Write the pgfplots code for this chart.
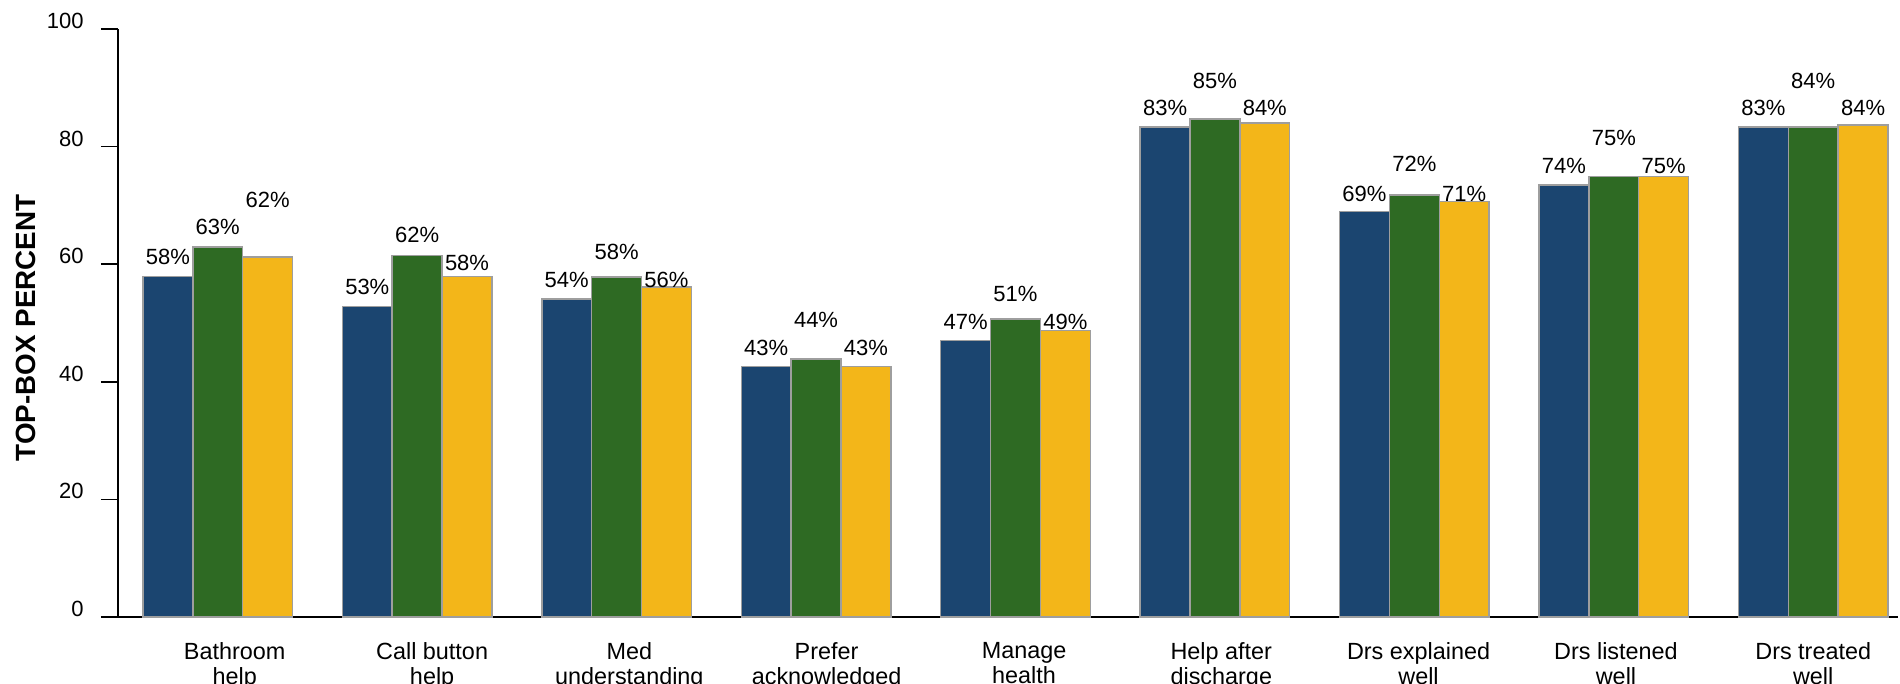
\documentclass[border=0pt]{standalone}
\usepackage{pgfplots}
\pgfplotsset{compat=1.18}
\usepackage{pgfplotstable}
\usepackage{fontspec}
\setmainfont{Liberation Sans}

\definecolor{cblue}{HTML}{1B4570}
\definecolor{cgreen}{HTML}{2E6A23}
\definecolor{cgold}{HTML}{F3B619}

% x = category, y = bar height, lab = printed percent, ly = height of label centre
\pgfplotstableread{
x y lab ly
0 57.9 58 61.3
1 52.8 53 56.1
2 54.1 54 57.3
3 42.6 43 45.7
4 47.0 47 50.2
5 83.3 83 86.6
6 69.0 69 71.9
7 73.5 74 76.7
8 83.3 83 86.5
}\blueser
\pgfplotstableread{
x y lab ly
0 62.9 63 66.3
1 61.5 62 65.0
2 57.8 58 62.1
3 43.9 44 50.5
4 50.7 51 55.0
5 84.7 85 91.2
6 71.8 72 77.0
7 74.9 75 81.4
8 83.3 84 91.2
}\greenser
\pgfplotstableread{
x y lab ly
0 61.2 62 70.9
1 57.9 58 60.2
2 56.1 56 57.3
3 42.6 43 45.7
4 48.7 49 50.2
5 84.0 84 86.6
6 70.7 71 71.9
7 74.9 75 76.7
8 83.7 84 86.5
}\goldser

\begin{document}
\begin{tikzpicture}
\begin{axis}[
  name=ax,
  scale only axis, width=890pt, height=294pt,
  xmin=-0.5, xmax=8.425, ymin=0, ymax=100,
  ybar=0pt, bar width=0.25,
  axis x line*=bottom, axis y line*=left,
  axis line style={black, line width=1pt},
  ytick={0,20,...,100},
  tick align=outside, major tick length=8.5pt,
  ytick style={black, line width=0.8pt},
  /pgf/number format/assume math mode=true,
  yticklabel style={font=\fontsize{11}{13}\selectfont, inner sep=0pt, anchor=east, xshift=-8.5pt, yshift=4pt},
  xtick={0.085,1.075,2.064,3.053,4.043,5.032,6.021,7.011,8.0},
  xticklabels={{Bathroom\\help},{Call button\\help},{Med\\understanding},{Prefer\\acknowledged},{Manage\\health},{Help after\\discharge},{Drs explained\\well},{Drs listened\\well},{Drs treated\\well}},
  xtick style={draw=none},
  xticklabel style={align=center, anchor=north, inner sep=0pt, yshift=-4pt, font=\fontsize{11.7}{12.5}\selectfont},
  ylabel={TOP-BOX PERCENT},
  every axis y label/.style={at={([xshift=-46pt,yshift=-2.5pt]axis description cs:0,0.5)}, rotate=90, anchor=center, font=\bfseries\fontsize{13.9}{16}\selectfont},
  point meta=explicit symbolic,
  nodes near coords={\pgfplotspointmeta\%},
  visualization depends on={(\thisrow{ly}-\thisrow{y})*2.94 \as \dy},
  every node near coord/.append style={anchor=center, inner sep=0pt, yshift=\dy pt, font=\fontsize{11}{13}\selectfont, text=black},
  clip=false,
]
\addplot[draw=black!38, line width=0.75pt, fill=cblue] table[x=x, y=y, meta=lab] {\blueser};
\addplot[draw=black!38, line width=0.75pt, fill=cgreen] table[x=x, y=y, meta=lab] {\greenser};
\addplot[draw=black!38, line width=0.75pt, fill=cgold] table[x=x, y=y, meta=lab] {\goldser};
\end{axis}
\pgfresetboundingbox
\path[use as bounding box] ([xshift=-59pt,yshift=-33.5pt]ax.south west) rectangle ([xshift=1pt,yshift=14.5pt]ax.north east);
\end{tikzpicture}
\end{document}
